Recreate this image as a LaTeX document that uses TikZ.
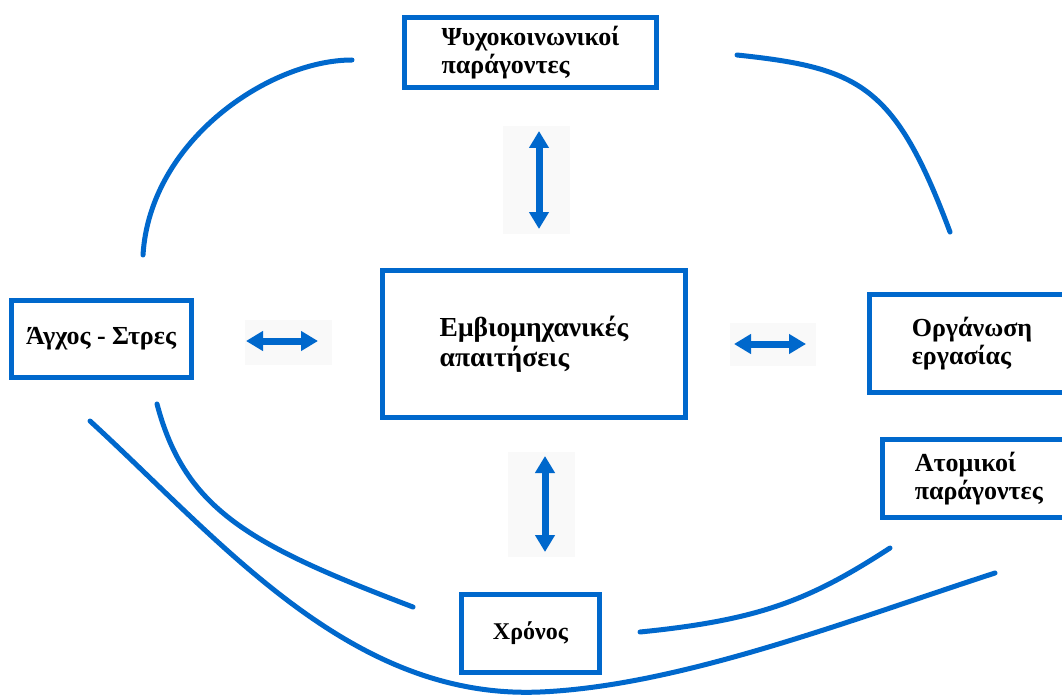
\documentclass[tikz,border=0pt]{standalone}
\usepackage{fontspec}
\setmainfont{Liberation Serif}
\usetikzlibrary{arrows.meta}
\definecolor{diagblue}{RGB}{0,104,204}
\definecolor{arrowbg}{RGB}{249,249,249}
\tikzset{
  box/.style={draw=diagblue, line width=5pt, rectangle, inner sep=0pt, align=left,
              font=\bfseries\fontsize{26}{28}\selectfont},
  curve/.style={draw=diagblue, line width=5pt, line cap=round},
  dblarrow/.style={draw=diagblue, line width=7pt,
     {Triangle[width=19pt,length=17pt]}-{Triangle[width=19pt,length=17pt]}},
  bgrect/.style={fill=arrowbg, draw=none}
}
\begin{document}
\begin{tikzpicture}[x=1pt,y=-1pt]
\clip (0,0) rectangle (1062,695);
\fill[white] (0,0) rectangle (1062,695);

% boxes
\node[box, minimum width=252pt, minimum height=70pt] (psy) at (530.5,52.5)
  {Ψυχοκοινωνικοί\\παράγοντες};
\node[box, minimum width=303pt, minimum height=147pt,
      font=\bfseries\fontsize{27.5}{30}\selectfont] (emb) at (534,344)
  {Εμβιομηχανικές\\απαιτήσεις};
\node[box, minimum width=180pt, minimum height=77pt] (agx) at (101,339)
  {Άγχος - Στρες};
\node[box, minimum width=205pt, minimum height=98pt] (org) at (972,343.5)
  {Οργάνωση\\εργασίας};
\node[box, minimum width=192pt, minimum height=78pt] (ato) at (978.75,478.5)
  {Ατομικοί\\παράγοντες};
\node[box, minimum width=138pt, minimum height=78pt,
      font=\bfseries\fontsize{24}{28}\selectfont] (xro) at (530.5,633.5)
  {Χρόνος};

% arrow backgrounds
\fill[bgrect] (503,126) rectangle (570,234);
\fill[bgrect] (508,452) rectangle (575,557);
\fill[bgrect] (245,320) rectangle (332,365);
\fill[bgrect] (730,323) rectangle (816,366);

% double arrows
\coordinate (a1s) at (539,131); \coordinate (a1e) at (539,229);
\coordinate (a2s) at (545,456); \coordinate (a2e) at (545,552);
\coordinate (a3s) at (246,341); \coordinate (a3e) at (318,341);
\coordinate (a4s) at (734,344); \coordinate (a4e) at (806,344);
\draw[dblarrow] (a1s) -- (a1e);
\draw[dblarrow] (a2s) -- (a2e);
\draw[dblarrow] (a3s) -- (a3e);
\draw[dblarrow] (a4s) -- (a4e);

% curves
\draw[curve] (352,60) .. controls (270,60) and (150,140) .. (143,255);
\draw[curve] (737,55) .. controls (860,68) and (895,85) .. (950,232);
\draw[curve] (157,404) .. controls (185,510) and (250,545) .. (413,607);
\draw[curve] (90,421) .. controls (220,540) and (350,700) .. (540,692)
   .. controls (680,686) and (850,620) .. (995,573);
\draw[curve] (640,632) .. controls (760,620) and (810,600) .. (890,548);
\end{tikzpicture}
\end{document}
